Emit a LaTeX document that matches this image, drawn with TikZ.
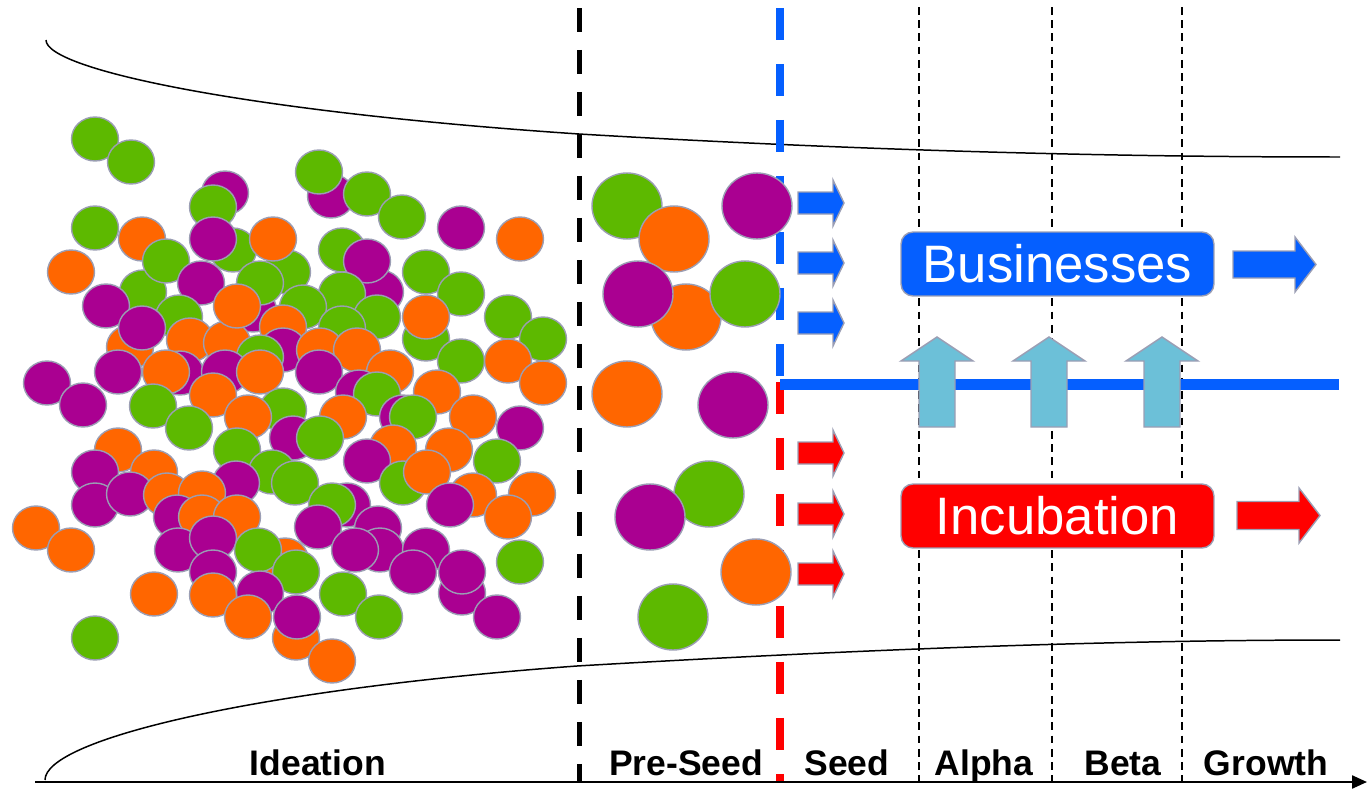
\documentclass[tikz,border=0pt]{standalone}
\usepackage{fontspec}
\setmainfont{Liberation Sans}
\usepackage{tikz}
\usetikzlibrary{arrows.meta}

\definecolor{gr}{RGB}{93,185,0}
\definecolor{pu}{RGB}{170,0,145}
\definecolor{or}{RGB}{255,102,0}
\definecolor{edgegray}{RGB}{155,158,180}
\definecolor{bizblue}{RGB}{5,95,255}
\definecolor{incred}{RGB}{255,0,0}
\definecolor{liftblue}{RGB}{108,192,216}

\begin{document}
\begin{tikzpicture}[
    x=0.02cm, y=-0.02cm,
    idea/.style={draw=edgegray, line width=0.8pt},
    funnel/.style={line width=0.85pt},
    gate/.style={line width=0.16cm, dash pattern=on 0.64cm off 0.48cm},
    milestone/.style={line width=0.85pt, dash pattern=on 0.155cm off 0.11cm},
    flowarrow/.style={draw=edgegray, line width=0.8pt},
    flowbox/.style={draw=edgegray, line width=0.8pt, rounded corners=0.24cm, text=white, minimum width=6.26cm, minimum height=1.28cm, inner sep=0pt, font=\fontsize{30}{36}\selectfont},
    stagelbl/.style={anchor=base, inner sep=0pt, font=\fontsize{20.2}{24}\selectfont\bfseries}
]
\useasboundingbox (0,0) rectangle (1367,791);

% funnel outline
\draw[funnel] (46,40) .. controls (46,70) and (250,112) .. (579,134) .. controls (850,150) and (1100,157) .. (1340,157);
\draw[funnel] (45,780) .. controls (45,740) and (250,690) .. (577,666) .. controls (850,650) and (1100,640) .. (1340,640);

% stage borders
\draw[line width=0.1cm, dash pattern=on 0.48cm off 0.36cm] (579,8) -- (579,781);
\draw[gate, bizblue] (780,8) -- (780,383);
\draw[gate, incred] (780,382) -- (780,781);
\foreach \x in {919,1052,1182}
  \draw[milestone] (\x,7) -- (\x,781);
\draw[bizblue, line width=0.22cm] (780,384) -- (1339,384);

% time axis
\draw[line width=1.3pt, -{Triangle[length=0.3cm, width=0.26cm]}] (35,782) -- (1367,782);

% ideas
\foreach \x/\y/\col in {
  95/139/gr, 131/162/gr, 225/193/pu, 213/207/gr, 331/196/pu, 319/172/gr, 367/194/gr, 402/217/gr,
  461/228/pu, 520/239/or, 95/228/gr, 142/239/or, 233/250/gr, 287/272/gr, 380/292/pu, 253/310/pu,
  273/239/or, 213/239/pu, 71/272/or, 143/292/gr, 166/261/gr, 260/283/gr, 342/250/gr, 367/261/pu,
  426/272/gr, 461/294/gr, 342/294/gr, 201/283/pu, 106/306/pu, 179/317/gr, 303/307/gr, 283/327/or,
  377/317/gr, 426/339/gr, 426/317/or, 508/317/gr, 543/339/gr, 130/347/or, 142/328/pu, 190/340/or,
  227/343/or, 237/306/or, 342/328/gr, 283/350/pu, 320/350/or, 357/350/or, 260/357/gr, 47/383/pu,
  83/405/pu, 118/372/pu, 180/373/pu, 166/372/or, 225/372/pu, 260/372/or, 319/372/pu, 390/372/or,
  461/361/gr, 508/361/or, 543/383/or, 359/392/pu, 377/394/gr, 437/392/or, 153/406/gr, 213/395/or,
  283/410/gr, 248/417/or, 189/428/gr, 403/417/pu, 413/417/gr, 343/417/or, 473/417/or, 520/428/pu,
  293/438/pu, 320/438/gr, 393/447/or, 237/450/gr, 118/450/or, 367/461/pu, 449/450/or, 497/461/gr,
  272/472/gr, 95/472/pu, 154/472/or, 403/483/gr, 427/472/or, 236/483/pu, 295/483/gr, 95/505/pu,
  130/494/pu, 167/495/or, 202/493/or, 473/495/or, 347/505/pu, 332/505/gr, 450/505/pu, 532/494/or,
  508/517/or, 177/517/pu, 202/517/or, 237/517/or, 36/528/or, 71/550/or, 318/527/pu, 378/528/pu,
  380/550/pu, 355/550/pu, 426/550/pu, 178/550/pu, 213/538/pu, 285/560/or, 258/550/gr, 296/572/gr,
  213/572/pu, 413/572/pu, 462/593/pu, 462/572/pu, 520/562/gr, 213/595/or, 154/594/or, 260/593/pu,
  343/594/gr, 296/638/or, 248/617/or, 297/617/pu, 379/617/gr, 497/617/pu, 332/661/or, 95/638/gr}
  \filldraw[idea, fill=\col] (\x,\y) circle [x radius=0.47cm, y radius=0.44cm];

% pre-seed ideas
\foreach \x/\y/\col in {
  627/206/gr, 674/239/or, 757/206/pu, 686/317/or, 638/294/pu, 745/294/gr,
  627/394/or, 733/405/pu, 709/494/gr, 650/517/pu, 756/572/or, 673/617/gr}
  \filldraw[idea, fill=\col] (\x,\y) circle [x radius=0.7cm, y radius=0.66cm];

% seed arrows
\foreach \y in {203,263,323}
  \filldraw[flowarrow, fill=bizblue] (798,\y-11) -- (833,\y-11) -- (833,\y-23) -- (844,\y) -- (833,\y+23) -- (833,\y+11) -- (798,\y+11) -- cycle;
\foreach \y in {453,514,574}
  \filldraw[flowarrow, fill=incred] (798,\y-11) -- (833,\y-11) -- (833,\y-23) -- (844,\y) -- (833,\y+23) -- (833,\y+11) -- (798,\y+11) -- cycle;

% incubation to business
\foreach \x in {937,1049,1162}
  \filldraw[flowarrow, fill=liftblue] (\x-18,427) -- (\x-18,361) -- (\x-36,361) -- (\x,337) -- (\x+36,361) -- (\x+18,361) -- (\x+18,427) -- cycle;

% tracks
\node[flowbox, fill=bizblue] (biz) at (1057.5,264) {Businesses};
\node[flowbox, fill=incred] (incub) at (1057.5,516) {Incubation};
\filldraw[flowarrow, fill=bizblue] (1233,251) -- (1295,251) -- (1295,237) -- (1316,264.5) -- (1295,292) -- (1295,278) -- (1233,278) -- cycle;
\filldraw[flowarrow, fill=incred] (1237,501.5) -- (1299,501.5) -- (1299,488) -- (1320,515.5) -- (1299,543) -- (1299,529.5) -- (1237,529.5) -- cycle;

% stage names
\node[stagelbl] (ideation) at (318,775) {Ideation};
\node[stagelbl] (preseed) at (686,775) {Pre-Seed};
\node[stagelbl] (seed) at (847,775) {Seed};
\node[stagelbl] (alpha) at (984,775) {Alpha};
\node[stagelbl] (beta) at (1123,775) {Beta};
\node[stagelbl] (growth) at (1266,775) {Growth};

\end{tikzpicture}
\end{document}
